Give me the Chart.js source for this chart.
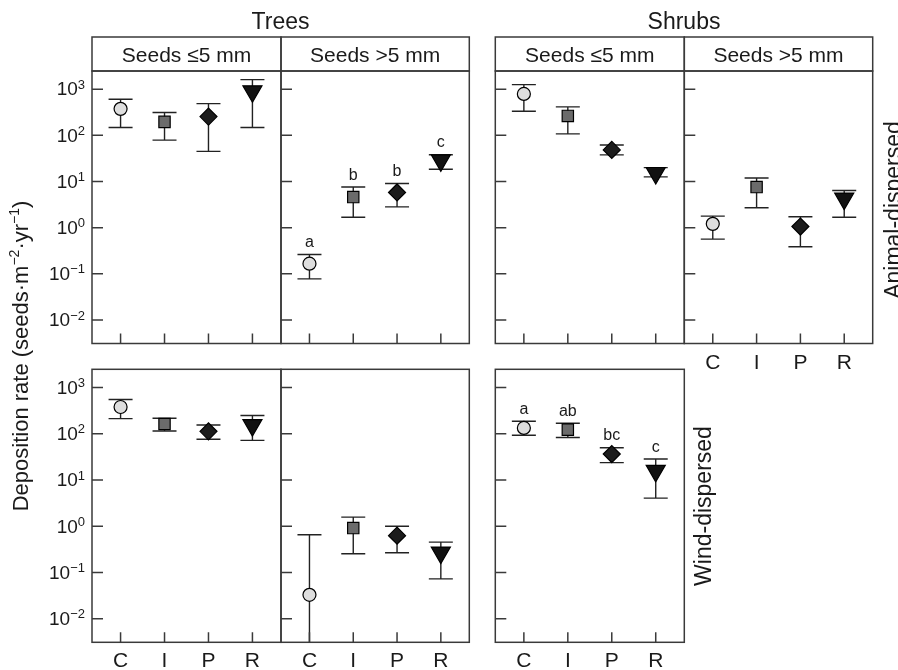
<!DOCTYPE html>
<html>
<head>
<meta charset="utf-8">
<script src="https://cdn.jsdelivr.net/npm/chart.js@4.4.1/dist/chart.umd.min.js"></script>
<style>
  body { margin: 0; background: #fff; }
  #wrap { position: relative; width: 898px; height: 670px; overflow: hidden; }
  #wrap canvas { position: absolute; left: 0; top: 0; }
</style>
</head>
<body>
<div id="wrap"></div>
<script>
// x categories and y decades
var treatments = ['C', 'I', 'P', 'R'];
var yTickExp = [-2, -1, 0, 1, 2, 3];

// Trees, seeds <=5 mm, animal-dispersed
var treeSmallAnimal   = [375, 196, 255, 900];
var treeSmallAnimalLo = [148, 79, 45, 148];
var treeSmallAnimalHi = [607, 312, 487, 1615];

// Trees, seeds >5 mm, animal-dispersed
var treeLargeAnimal   = [0.166, 4.6, 5.8, 28.8];
var treeLargeAnimalLo = [0.078, 1.69, 2.83, 18.5];
var treeLargeAnimalHi = [0.263, 7.6, 9.06, 37.9];
var treeLargeAnimalLetters = ['a', 'b', 'b', 'c'];

// Shrubs, seeds <=5 mm, animal-dispersed
var shrubSmallAnimal   = [791, 264, 48.5, 15.3];
var shrubSmallAnimalLo = [334, 108, 37.8, 12.6];
var shrubSmallAnimalHi = [1258, 414, 62, 20];

// Shrubs, seeds >5 mm, animal-dispersed
var shrubLargeAnimal   = [1.21, 7.57, 1.06, 4.27];
var shrubLargeAnimalLo = [0.566, 2.7, 0.386, 1.69];
var shrubLargeAnimalHi = [1.78, 11.9, 1.72, 6.4];

// Trees, seeds <=5 mm, wind-dispersed
var treeSmallWind   = [380, 163, 113, 154];
var treeSmallWindLo = [213, 115, 76, 72];
var treeSmallWindHi = [550, 217, 155, 248];

// Trees, seeds >5 mm, wind-dispersed (C lower bound below the axis)
var treeLargeWind   = [0.033, 0.914, 0.626, 0.27];
var treeLargeWindLo = [0.002, 0.255, 0.268, 0.073];
var treeLargeWindHi = [0.658, 1.58, 1.0, 0.455];

// Shrubs, seeds <=5 mm, wind-dispersed
var shrubSmallWind   = [134, 123, 36.5, 15.8];
var shrubSmallWindLo = [93, 83, 23.8, 4.07];
var shrubSmallWindHi = [187, 169, 50, 28.5];
var shrubSmallWindLetters = ['a', 'ab', 'bc', 'c'];

var W = 898, H = 670;
var FONT = "'Liberation Sans', Arial, Helvetica, sans-serif";
var INK = '#1a1a1a';
var FRAME = '#3a3a3a';

// marker look per treatment
var markerStyle = ['circle', 'rect', 'rectRot', 'triangle'];
var markerRadius = [6.5, 8, 8.5, 11];
var markerRotation = [0, 0, 0, 180];
var markerFill = ['#dedede', '#6b6b6b', '#1c1c1c', '#111111'];

// panel boxes: [left, top, right, bottom] of the plotting area
var panels = [
  { mean: treeSmallAnimal, lo: treeSmallAnimalLo, hi: treeSmallAnimalHi, box: [92, 71, 281, 343.5], strip: 'Seeds \u22645 mm', yLabels: true },
  { mean: treeLargeAnimal, lo: treeLargeAnimalLo, hi: treeLargeAnimalHi, box: [281, 71, 469.3, 343.5], strip: 'Seeds >5 mm', letters: treeLargeAnimalLetters },
  { mean: shrubSmallAnimal, lo: shrubSmallAnimalLo, hi: shrubSmallAnimalHi, box: [495.3, 71, 684.3, 343.5], strip: 'Seeds \u22645 mm' },
  { mean: shrubLargeAnimal, lo: shrubLargeAnimalLo, hi: shrubLargeAnimalHi, box: [684.3, 71, 872.7, 343.5], strip: 'Seeds >5 mm', xLabels: true },
  { mean: treeSmallWind, lo: treeSmallWindLo, hi: treeSmallWindHi, box: [92, 369.3, 281, 642.3], yLabels: true, xLabels: true },
  { mean: treeLargeWind, lo: treeLargeWindLo, hi: treeLargeWindHi, box: [281, 369.3, 469.3, 642.3], xLabels: true },
  { mean: shrubSmallWind, lo: shrubSmallWindLo, hi: shrubSmallWindHi, box: [495.3, 369.3, 684.3, 642.3], xLabels: true, letters: shrubSmallWindLetters }
];
var stripTop = 37;

function supText(ctx, parts, x, y, align) {
  // parts: [text, isSuper] ; big/small fonts set by caller through sizes
}

function drawPageText(ctx) {
  ctx.save();
  ctx.fillStyle = INK;
  ctx.textAlign = 'center';
  ctx.textBaseline = 'alphabetic';
  ctx.font = '23px ' + FONT;
  ctx.fillText('Trees', 280.5, 28.5);
  ctx.fillText('Shrubs', 684, 28.5);

  // y axis title, rotated
  var segs = [['Deposition rate (seeds\u00b7m', false], ['\u22122', true], ['\u00b7yr', false], ['\u22121', true], [')', false]];
  var big = '22px ' + FONT, small = '14px ' + FONT;
  var total = 0;
  segs.forEach(function (s) { ctx.font = s[1] ? small : big; total += ctx.measureText(s[0]).width; });
  ctx.translate(28, 356);
  ctx.rotate(-Math.PI / 2);
  ctx.textAlign = 'left';
  var cx = -total / 2;
  segs.forEach(function (s) {
    ctx.font = s[1] ? small : big;
    ctx.fillText(s[0], cx, s[1] ? -9 : 0);
    cx += ctx.measureText(s[0]).width;
  });
  ctx.restore();

  ctx.save();
  ctx.fillStyle = INK;
  ctx.font = '23px ' + FONT;
  ctx.textAlign = 'center';
  ctx.textBaseline = 'alphabetic';
  ctx.translate(901, 210);
  ctx.rotate(-Math.PI / 2);
  ctx.fillText('Animal-dispersed', 0, 0);
  ctx.restore();

  ctx.save();
  ctx.fillStyle = INK;
  ctx.font = '23px ' + FONT;
  ctx.textAlign = 'center';
  ctx.textBaseline = 'alphabetic';
  ctx.translate(711, 506);
  ctx.rotate(-Math.PI / 2);
  ctx.fillText('Wind-dispersed', 0, 0);
  ctx.restore();
}

function makePanelPlugin(p, idx) {
  return {
    id: 'panelDecor' + idx,
    beforeDatasetsDraw: function (chart) {
      var ctx = chart.ctx, xs = chart.scales.x, ys = chart.scales.y, a = chart.chartArea;
      ctx.save();
      ctx.strokeStyle = '#222';
      ctx.lineWidth = 1.4;
      for (var i = 0; i < p.mean.length; i++) {
        var x = xs.getPixelForValue(i + 1);
        var yh = ys.getPixelForValue(p.hi[i]);
        var yl = ys.getPixelForValue(p.lo[i]);
        var ylc = Math.min(yl, a.bottom), yhc = Math.max(yh, a.top);
        ctx.beginPath();
        ctx.moveTo(x, yhc); ctx.lineTo(x, ylc);
        if (yh >= a.top) { ctx.moveTo(x - 12, yh); ctx.lineTo(x + 12, yh); }
        if (yl <= a.bottom) { ctx.moveTo(x - 12, yl); ctx.lineTo(x + 12, yl); }
        ctx.stroke();
      }
      ctx.restore();
    },
    afterDraw: function (chart) {
      var ctx = chart.ctx, xs = chart.scales.x, ys = chart.scales.y, a = chart.chartArea;
      ctx.save();
      ctx.strokeStyle = FRAME;
      ctx.lineWidth = 1.5;
      ctx.strokeRect(a.left, a.top, a.right - a.left, a.bottom - a.top);
      if (p.strip) {
        ctx.strokeRect(a.left, stripTop, a.right - a.left, a.top - stripTop);
        ctx.fillStyle = INK;
        ctx.font = '21px ' + FONT;
        ctx.textAlign = 'center';
        ctx.textBaseline = 'alphabetic';
        ctx.fillText(p.strip, (a.left + a.right) / 2, 62);
      }
      // inward ticks
      ctx.beginPath();
      yTickExp.forEach(function (e) {
        var y = ys.getPixelForValue(Math.pow(10, e));
        ctx.moveTo(a.left, y); ctx.lineTo(a.left + 11, y);
      });
      treatments.forEach(function (t, i) {
        var x = xs.getPixelForValue(i + 1);
        ctx.moveTo(x, a.bottom); ctx.lineTo(x, a.bottom - 10);
      });
      ctx.stroke();

      ctx.fillStyle = INK;
      if (p.yLabels) {
        yTickExp.forEach(function (e) {
          var y = ys.getPixelForValue(Math.pow(10, e));
          var exp = e < 0 ? '\u2212' + (-e) : String(e);
          ctx.font = '13px ' + FONT;
          var we = ctx.measureText(exp).width;
          ctx.textAlign = 'right';
          ctx.textBaseline = 'middle';
          ctx.fillText(exp, 85, y - 4);
          ctx.font = '19px ' + FONT;
          ctx.fillText('10', 85 - we, y + 1);
        });
      }
      if (p.xLabels) {
        ctx.font = '21px ' + FONT;
        ctx.textAlign = 'center';
        ctx.textBaseline = 'alphabetic';
        treatments.forEach(function (t, i) {
          ctx.fillText(t, xs.getPixelForValue(i + 1), a.bottom + 25);
        });
      }
      if (p.letters) {
        ctx.font = '16px ' + FONT;
        ctx.textAlign = 'center';
        ctx.textBaseline = 'alphabetic';
        p.letters.forEach(function (l, i) {
          ctx.fillText(l, xs.getPixelForValue(i + 1), ys.getPixelForValue(p.hi[i]) - 7.5);
        });
      }
      ctx.restore();
      if (idx === 0) drawPageText(ctx);
    }
  };
}

var wrap = document.getElementById('wrap');
panels.forEach(function (p, idx) {
  var cv = document.createElement('canvas');
  cv.width = W; cv.height = H;
  cv.style.width = W + 'px'; cv.style.height = H + 'px';
  wrap.appendChild(cv);
  var b = p.box;
  new Chart(cv.getContext('2d'), {
    type: 'scatter',
    data: {
      datasets: [{
        data: p.mean.map(function (v, i) { return { x: i + 1, y: v }; }),
        pointStyle: markerStyle,
        pointRadius: markerRadius,
        pointRotation: markerRotation,
        pointBackgroundColor: markerFill,
        pointBorderColor: '#000',
        pointBorderWidth: 1.2,
        showLine: false,
        clip: false
      }]
    },
    options: {
      responsive: false,
      animation: false,
      events: [],
      layout: { padding: { left: b[0], top: b[1], right: W - b[2], bottom: H - b[3] } },
      plugins: { legend: { display: false }, tooltip: { enabled: false } },
      scales: {
        x: { type: 'linear', display: false, min: 0.35, max: 4.65 },
        y: { type: 'logarithmic', display: false, min: 0.0031, max: 2480 }
      }
    },
    plugins: [makePanelPlugin(p, idx)]
  });
});
</script>
</body>
</html>
